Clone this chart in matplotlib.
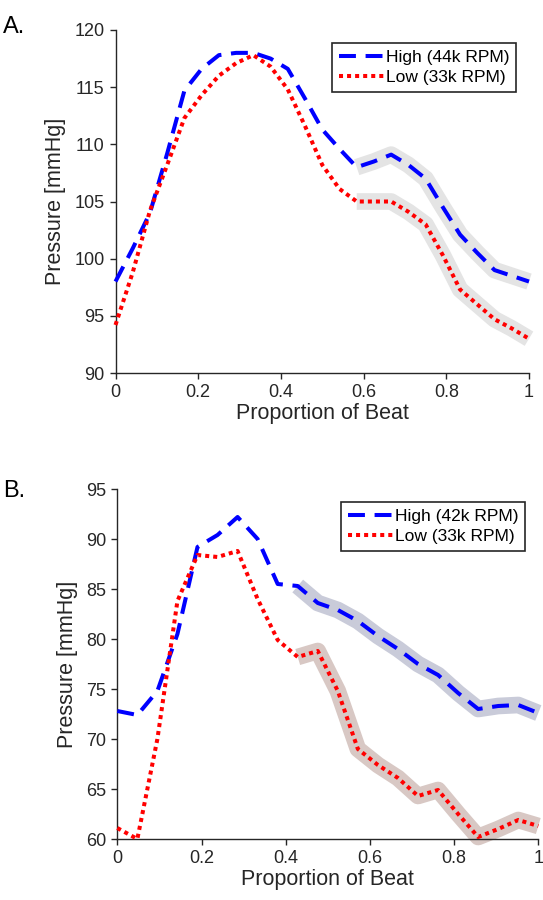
import matplotlib
matplotlib.use("Agg")
import matplotlib.pyplot as plt
import numpy as np

plt.rcParams['font.family'] = ['Liberation Sans', 'DejaVu Sans']

# ---------------- Panel A data ----------------
a_x = [i / 24 for i in range(25)]
a_high = [98.0, 100.9, 104.0, 109.2, 114.7, 116.6, 117.8, 118.0, 118.0, 117.5,
          116.6, 114.0, 111.3, 109.6, 108.0, 108.5, 109.1, 108.2, 107.0, 104.5,
          102.1, 100.5, 99.0, 98.5, 98.0]
a_low = [94.2, 98.8, 104.2, 108.2, 112.3, 114.3, 116.0, 117.1, 117.8, 116.8,
         114.8, 111.6, 108.2, 106.1, 105.0, 105.0, 105.0, 104.1, 103.0, 100.3,
         97.3, 96.0, 94.7, 93.9, 93.0]
a_sig_start = 14  # index where highlighted region begins
a_labels = ["High (44k RPM)", "Low (33k RPM)"]
a_yticks = [90, 95, 100, 105, 110, 115, 120]

# ---------------- Panel B data ----------------
b_x = [i / 21 for i in range(22)]
b_high = [72.8, 72.4, 74.8, 80.5, 89.2, 90.4, 92.2, 90.0, 85.5, 85.3, 83.6,
          82.9, 81.8, 80.3, 79.0, 77.5, 76.4, 74.6, 73.0, 73.3, 73.4, 72.6]
b_low = [61.1, 60.0, 70.0, 83.8, 88.4, 88.2, 88.8, 84.0, 79.9, 78.2, 78.8,
         74.8, 69.0, 67.4, 66.1, 64.3, 64.9, 62.5, 60.2, 61.0, 61.9, 61.3]
b_sig_start = 9
b_labels = ["High (42k RPM)", "Low (33k RPM)"]
b_yticks = [60, 65, 70, 75, 80, 85, 90, 95]

xticks = [0, 0.2, 0.4, 0.6, 0.8, 1]
xticklabels = ["0", "0.2", "0.4", "0.6", "0.8", "1"]

W, H = 543, 900
fig = plt.figure(figsize=(W / 100, H / 100), dpi=100)

axA = fig.add_axes([115.5 / W, 1 - 373 / H, 413.5 / W, 343 / H])
axB = fig.add_axes([117.3 / W, 1 - 839 / H, 421 / W, 350 / H])

BLUE = '#0000ff'
RED = '#ff0000'
AXC = '#262626'


def style(ax, ylim, yticks):
    ax.set_xlim(0, 1)
    ax.set_ylim(*ylim)
    ax.set_xticks(xticks)
    ax.set_xticklabels(xticklabels)
    ax.set_yticks(yticks)
    for s in ['top', 'right']:
        ax.spines[s].set_visible(False)
    for s in ['left', 'bottom']:
        ax.spines[s].set_color(AXC)
        ax.spines[s].set_linewidth(1.0)
    ax.tick_params(direction='out', length=4, width=1, colors=AXC,
                   labelsize=13, labelcolor=AXC, pad=4)
    ax.set_xlabel("Proportion of Beat", fontsize=15.5, color=AXC, labelpad=1)
    ax.set_ylabel("Pressure [mmHg]", fontsize=15.5, color=AXC, labelpad=6)


def draw(ax, x, hi, lo, start, hi_band, lo_band, labels, bap):
    ax.plot(x[start:], hi[start:], color=hi_band, lw=12, solid_capstyle='butt',
            solid_joinstyle='round', zorder=1, clip_on=False)
    ax.plot(x[start:], lo[start:], color=lo_band, lw=12, solid_capstyle='butt',
            solid_joinstyle='round', zorder=1, clip_on=False)
    ax.plot(x, hi, color=BLUE, lw=2.9, dashes=(4.2, 2.4),
            dash_capstyle='butt', zorder=3, clip_on=False, label=labels[0])
    ax.plot(x, lo, color=RED, lw=2.9, dashes=(1.0, 1.0),
            dash_capstyle='butt', zorder=3, clip_on=False, label=labels[1])
    leg = ax.legend(loc='upper right', fontsize=12.5, frameon=True, fancybox=False,
                    edgecolor=AXC, handlelength=2.6, handletextpad=0.1,
                    borderpad=0.4, labelspacing=0.3, borderaxespad=bap,
                    framealpha=1)
    leg.get_frame().set_linewidth(1.2)


style(axA, (90, 120), a_yticks)
draw(axA, a_x, a_high, a_low, a_sig_start, '#e4e4e4', '#e4e4e4', a_labels, 0.75)
style(axB, (60, 95), b_yticks)
draw(axB, b_x, b_high, b_low, b_sig_start, '#c9cbd9', '#d8c8c4', b_labels, 0.75)

fig.text(3 / W, 1 - 33 / H, "A.", fontsize=17, color='black')
fig.text(3 / W, 1 - 497 / H, "B.", fontsize=17, color='black')

fig.savefig("out.png", dpi=100)
